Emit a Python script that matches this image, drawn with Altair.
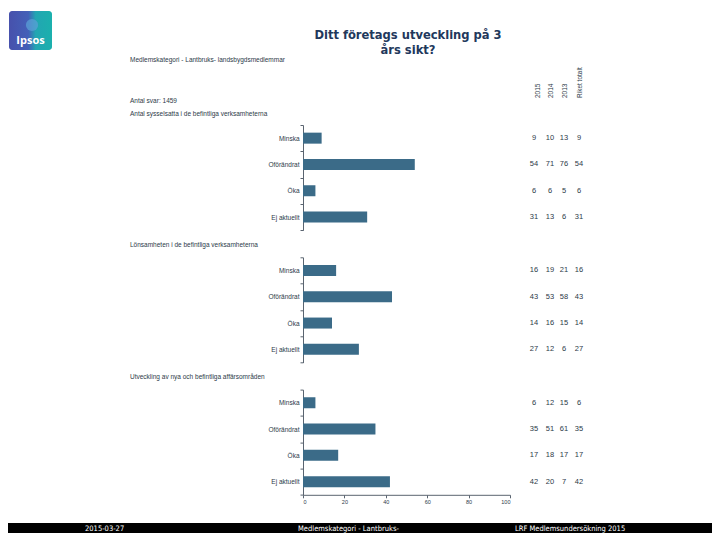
import altair as alt
import pandas as pd

# ---- data ----
categories = ["Minska", "Oförändrat", "Öka", "Ej aktuellt"]
sections = [
    "Antal sysselsatta i de befintliga verksamheterna",
    "Lönsamheten i de befintliga verksamheterna",
    "Utveckling av nya och befintliga affärsområden",
]
values_2015 = [[9, 54, 6, 31], [16, 43, 14, 27], [6, 35, 17, 42]]
values_2014 = [[10, 71, 6, 13], [19, 53, 16, 12], [12, 51, 18, 20]]
values_2013 = [[13, 76, 5, 6], [21, 58, 15, 6], [15, 61, 17, 7]]
values_riket = [[9, 54, 6, 31], [16, 43, 14, 27], [6, 35, 17, 42]]
column_headers = ["2015", "2014", "2013", "Riket totalt"]
x_ticks = [0, 20, 40, 60, 80, 100]

title_lines = ["Ditt företags utveckling på 3", "års sikt?"]
subtitle = "Medlemskategori - Lantbruks- landsbygdsmedlemmar"
answers = "Antal svar: 1459"
footer_texts = ["2015-03-27", "Medlemskategori - Lantbruks-", "LRF Medlemsundersökning 2015"]

rows = []
for p in range(3):
    for c, cat in enumerate(categories):
        rows.append(dict(panel=p, cat=cat,
                         v2015=values_2015[p][c], v2014=values_2014[p][c],
                         v2013=values_2013[p][c], riket=values_riket[p][c]))
df = pd.DataFrame(rows)

# ---- styling ----
BAR = "#3b6b88"
TXT = "#2c3a48"
AXC = "#5a6470"
FONT = "Liberation Sans"
NARROW = "DejaVu Sans Condensed, Roboto, sans-serif"
OX, OY = 303, 125  # page position of first panel's plot origin


def px(x):
    return x - OX


def py(y):
    return y - OY


def label(txt, x, y, **kw):
    return alt.Chart(pd.DataFrame({"t": [txt]})).mark_text(**kw).encode(
        x=alt.value(px(x)), y=alt.value(py(y)), text="t:N")


def box(x1, x2, y1, y2, **kw):
    return alt.Chart(pd.DataFrame({"a": [0]})).mark_rect(**kw).encode(
        x=alt.value(px(x1)), x2=alt.value(px(x2)),
        y=alt.value(py(y1)), y2=alt.value(py(y2)))


PANEL_H = 105.2
SPACING = 26.3
col_x = [534, 550, 564, 579]
fields = ["v2015", "v2014", "v2013", "riket"]


def panel(i, last):
    d = df[df.panel == i]
    base = alt.Chart(d)
    y = alt.Y("cat:N", sort=categories, title=None,
              scale=alt.Scale(domain=categories, paddingInner=0, paddingOuter=0),
              axis=alt.Axis(tickBand="extent", labelFontSize=6.5, labelColor=TXT,
                            labelFont=FONT, domainColor=AXC, tickColor=AXC,
                            tickSize=3, labelPadding=1, domainWidth=1))
    if last:
        xaxis = alt.Axis(values=x_ticks, grid=False, labelFontSize=5.5, labelColor=TXT,
                         labelFont=FONT, domainColor=AXC, tickColor=AXC, tickSize=3,
                         labelPadding=2)
    else:
        xaxis = None
    x = alt.X("v2015:Q", title=None, scale=alt.Scale(domain=[0, 100], nice=False), axis=xaxis)
    layers = []
    layers.append(base.mark_bar(size=11, color=BAR).encode(x=x, y=y))
    for f, cx in zip(fields, col_x):
        layers.append(base.mark_text(fontSize=7.5, color=TXT, font=FONT, align="center",
                                     baseline="middle").encode(
            x=alt.value(cx - OX), y=y, text=f"{f}:Q"))
    hy = -11 if i == 0 else -12.5
    layers.append(alt.Chart(pd.DataFrame({"t": [sections[i]]})).mark_text(
        align="left", baseline="middle", fontSize=6.5, color=TXT, font=FONT).encode(
        x=alt.value(130 - OX), y=alt.value(hy), text="t:N"))
    return layers


# decorations (drawn in the first panel's coordinates)
deco = [
    box(8, 712, 8, 534, opacity=0),
    box(9, 52, 11, 50, cornerRadius=3,
        color=alt.Gradient(gradient="linear",
                           stops=[alt.GradientStop(color="#4751ac", offset=0),
                                  alt.GradientStop(color="#4360b8", offset=0.45),
                                  alt.GradientStop(color="#22a6b2", offset=0.62),
                                  alt.GradientStop(color="#1bb0ad", offset=1)],
                           x1=0, x2=1, y1=0, y2=0)),
    alt.Chart(pd.DataFrame({"a": [0]})).mark_point(
        shape="circle", filled=True, size=150, color="#5a9fd6", opacity=0.75).encode(
        x=alt.value(px(32)), y=alt.value(py(25))),
    label("Ipsos", 30.5, 41, fontSize=11, fontWeight="bold", color="white", font="Open Sans",
          align="center", baseline="middle"),
    label(title_lines[0], 408, 35, fontSize=12.8, fontWeight="bold", color="#22385c",
          font=NARROW, align="center", baseline="middle"),
    label(title_lines[1], 408, 50, fontSize=12.8, fontWeight="bold", color="#22385c",
          font=NARROW, align="center", baseline="middle"),
    label(subtitle, 130, 60, fontSize=6.5, color=TXT, font=FONT, align="left", baseline="middle"),
    label(answers, 130, 101, fontSize=6.5, color=TXT, font=FONT, align="left", baseline="middle"),
]
for h, hx in zip(column_headers, [538, 551, 565, 580]):
    deco.append(label(h, hx, 98, fontSize=6.5, color=TXT, font=FONT, angle=270,
                      align="left", baseline="middle"))
deco.append(box(8, 712, 523, 533, color="black"))
for t, fx in zip(footer_texts, [85, 298, 515]):
    deco.append(label(t, fx, 528.5, fontSize=7.5, color="white", font=NARROW,
                      align="left", baseline="middle"))

p1 = alt.layer(*(deco + panel(0, False))).properties(width=207, height=PANEL_H)
p2 = alt.layer(*panel(1, False)).properties(width=207, height=PANEL_H)
p3 = alt.layer(*panel(2, True)).properties(width=207, height=PANEL_H)

chart = alt.vconcat(p1, p2, p3, spacing=SPACING, bounds="flush").properties(
    padding=0, background="white"
).configure_view(stroke=None)

chart.save("out.html", embed_options={"renderer": "svg", "actions": False})
